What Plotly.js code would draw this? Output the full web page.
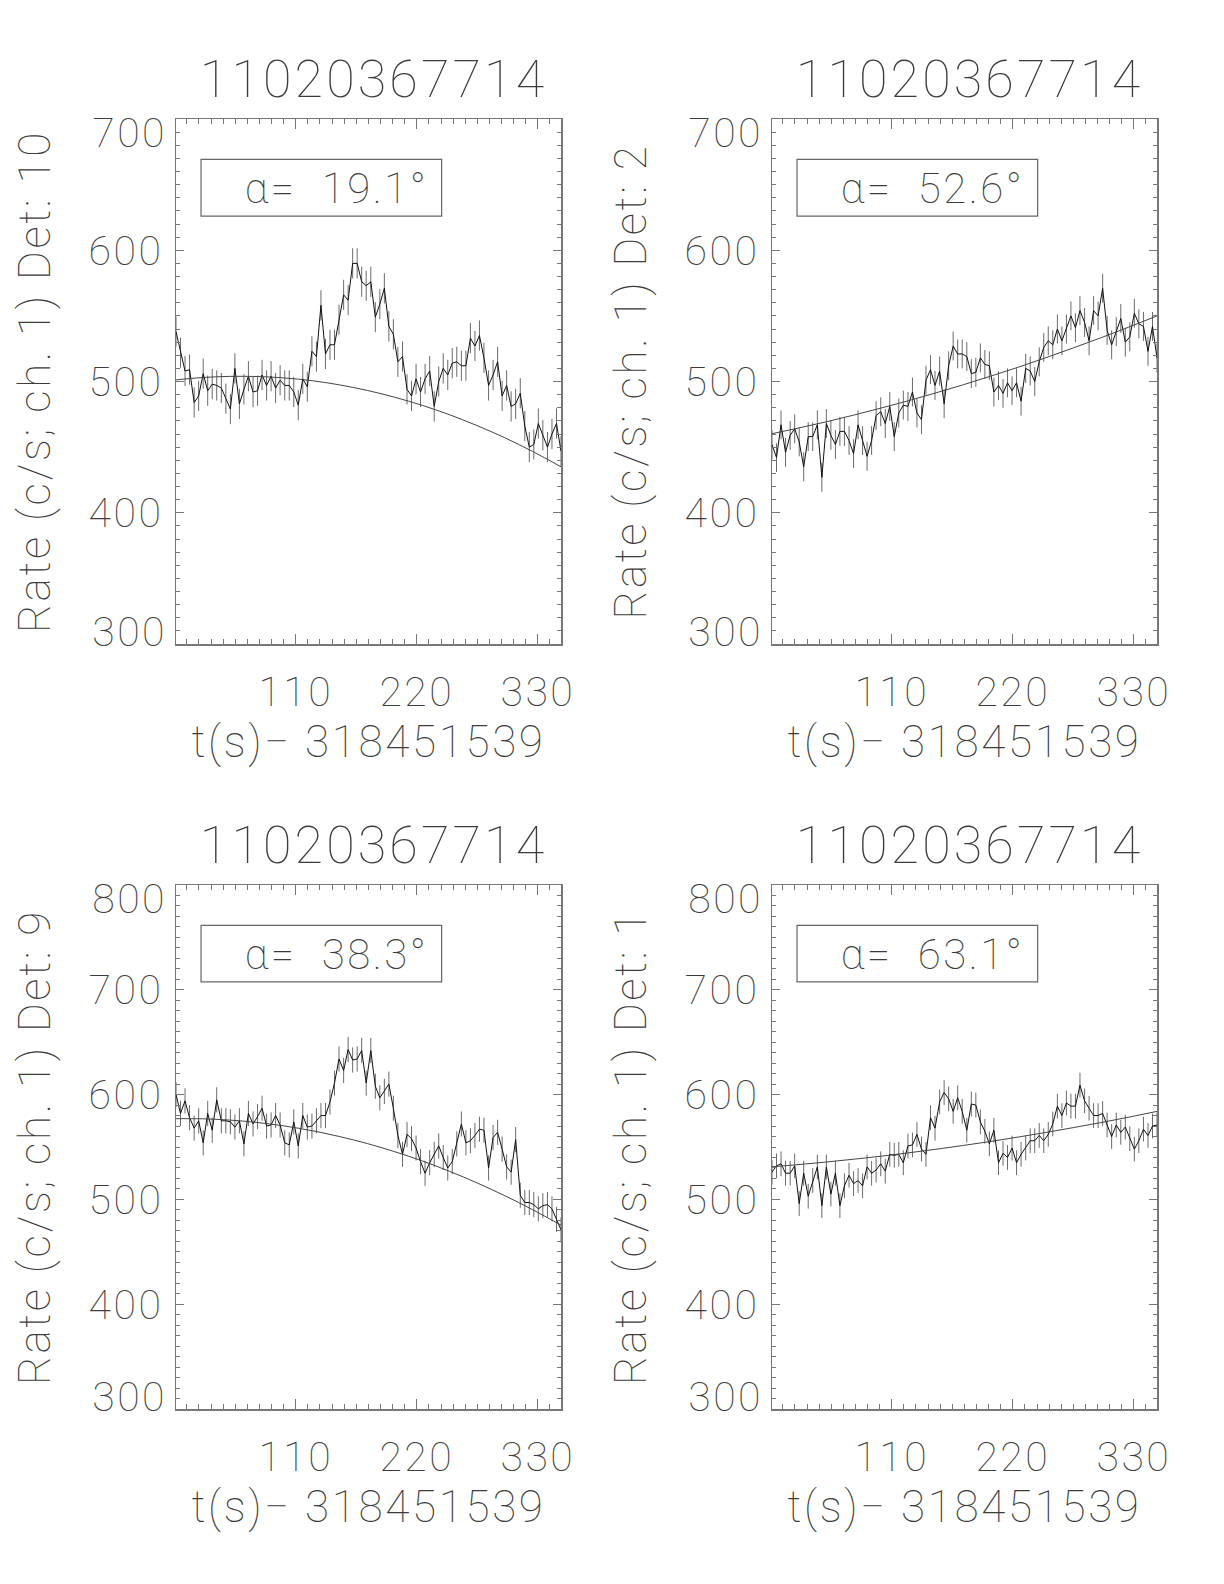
<!DOCTYPE html>
<html><head><meta charset="utf-8">
<script src="https://cdn.plot.ly/plotly-3.0.1.min.js"></script>
<style>
html,body{margin:0;padding:0;background:#fff}
#chart{width:1224px;height:1584px}
#chart svg text{letter-spacing:0.06em}
</style>
</head><body><div id="chart"></div>
<script>
// time bins (s) relative to 318451539
const tBins = [1.2, 5.3, 9.4, 13.5, 17.7, 21.8, 25.9, 30.0, 34.1, 38.2,
  42.4, 46.5, 50.6, 54.7, 58.8, 62.9, 67.0, 71.2, 75.3, 79.4,
  83.5, 87.6, 91.7, 95.8, 100.0, 104.1, 108.2, 112.3, 116.4, 120.5,
  124.7, 128.8, 132.9, 137.0, 141.1, 145.2, 149.3, 153.5, 157.6, 161.7,
  165.8, 169.9, 174.0, 178.2, 182.3, 186.4, 190.5, 194.6, 198.7, 202.8,
  207.0, 211.1, 215.2, 219.3, 223.4, 227.5, 231.7, 235.8, 239.9, 244.0,
  248.1, 252.2, 256.3, 260.5, 264.6, 268.7, 272.8, 276.9, 281.0, 285.2,
  289.3, 293.4, 297.5, 301.6, 305.7, 309.8, 314.0, 318.1, 322.2, 326.3,
  330.4, 334.5, 338.7, 342.8, 346.9, 351.0];

const rateDet10 = [538, 522, 508, 509, 484, 489, 506, 493, 498, 497,
  495, 487, 479, 510, 483, 494, 504, 492, 493, 505,
  497, 504, 495, 501, 497, 497, 492, 482, 502, 496,
  523, 519, 558, 521, 528, 528, 547, 566, 562, 590,
  590, 576, 573, 576, 549, 559, 571, 542, 536, 515,
  519, 494, 489, 502, 492, 502, 508, 481, 500, 510,
  505, 514, 515, 512, 512, 533, 527, 535, 518, 497,
  505, 515, 489, 497, 481, 483, 491, 466, 450, 452,
  468, 459, 450, 460, 468, 447];

const rateDet2 = [452, 442, 467, 446, 459, 464, 454, 435, 458, 458,
  467, 427, 468, 459, 452, 462, 462, 455, 445, 467,
  455, 443, 455, 474, 477, 468, 481, 458, 476, 482,
  481, 492, 476, 471, 501, 509, 497, 508, 483, 512,
  527, 521, 521, 519, 506, 507, 518, 513, 512, 492,
  497, 491, 499, 493, 499, 485, 510, 508, 500, 515,
  526, 531, 528, 540, 531, 540, 550, 541, 554, 545,
  531, 554, 550, 571, 539, 528, 538, 548, 530, 534,
  552, 544, 542, 523, 542, 518];

const rateDet9 = [600, 582, 594, 578, 568, 575, 554, 582, 566, 595,
  575, 575, 574, 569, 575, 553, 582, 572, 579, 587,
  570, 571, 580, 571, 554, 552, 574, 551, 580, 569,
  570, 575, 580, 580, 593, 611, 634, 623, 643, 633,
  634, 642, 611, 642, 608, 597, 603, 610, 587, 561,
  543, 562, 558, 549, 536, 525, 535, 543, 551, 540,
  530, 536, 553, 572, 554, 556, 561, 567, 566, 530,
  559, 564, 548, 531, 526, 557, 504, 497, 497, 495,
  491, 494, 495, 491, 481, 471];

const rateDet1 = [526, 532, 534, 525, 525, 532, 496, 525, 503, 518,
  531, 494, 531, 505, 525, 494, 513, 523, 515, 518,
  513, 531, 525, 528, 534, 527, 543, 542, 543, 535,
  551, 552, 562, 548, 543, 578, 568, 593, 602, 596,
  584, 597, 584, 566, 591, 590, 574, 565, 553, 566,
  535, 544, 540, 549, 535, 543, 549, 556, 556, 561,
  556, 562, 572, 589, 580, 592, 589, 589, 609, 594,
  587, 580, 580, 582, 571, 560, 571, 564, 569, 558,
  548, 556, 567, 561, 570, 571];

// 1-sigma half error per panel (c/s)
const errDet10 = 11.5, errDet2 = 11.0, errDet9 = 12.0, errDet1 = 11.8;

// background fit curves
const tFit = [1, 25, 50, 75, 100, 125, 150, 175, 200, 225, 250, 275, 300, 325, 351];
const fitDet10 = [501.2, 503.0, 503.9, 503.8, 502.7, 500.6, 497.4, 493.2, 488.0, 481.8, 474.6, 466.3, 457.1, 446.8, 435.0];
const fitDet2  = [460.2, 464.5, 469.2, 474.3, 479.7, 485.3, 491.3, 497.5, 504.1, 510.9, 518.1, 525.6, 533.3, 541.3, 550.0];
const fitDet9  = [577.0, 576.9, 575.7, 573.4, 570.0, 565.5, 559.9, 553.3, 545.5, 536.7, 526.7, 515.6, 503.5, 490.3, 475.4];
const fitDet1  = [531.1, 533.2, 535.6, 538.3, 541.2, 544.4, 547.8, 551.5, 555.3, 559.5, 563.9, 568.5, 573.3, 578.4, 584.0];

const panelTitle = "11020367714";
const xTitleText = "t(s)\u2212 318451539";
const detLabels = ["10", "2", "9", "1"];
const alphaLabels = ["19.1", "52.6", "38.3", "63.1"];
const xTickVals = [110, 220, 330];
const yTickValsA = [300, 400, 500, 600, 700];
const yTickValsB = [300, 400, 500, 600, 700, 800];

const rates = [rateDet10, rateDet2, rateDet9, rateDet1];
const errs = [errDet10, errDet2, errDet9, errDet1];
const fits = [fitDet10, fitDet2, fitDet9, fitDet1];
const yTicks = [yTickValsA, yTickValsA, yTickValsB, yTickValsB];

const W = 1224, H = 1584;
const px = (a, b) => [a / W, b / W];
const py = (top, bot) => [1 - bot / H, 1 - top / H];
const xDomains = [px(176, 561), px(772, 1157), px(176, 561), px(772, 1157)];
const yDomains = [py(119, 644), py(119, 644), py(885, 1409), py(885, 1409)];

const FONT = 'Roboto, sans-serif';
const TXT = '#3c3c3c';
const AX = '#777777';
const tf = (size) => ({family: FONT, size: size, color: TXT, weight: 100});

const traces = [];
const layout = {
  width: W, height: H,
  margin: {l: 0, r: 0, t: 0, b: 0},
  paper_bgcolor: '#fff', plot_bgcolor: '#fff',
  showlegend: false,
  font: tf(41),
  annotations: [], shapes: []
};

for (let p = 0; p < 4; p++) {
  const s = p === 0 ? '' : String(p + 1);
  const xa = 'x' + s, ya = 'y' + s;
  traces.push({
    x: tBins, y: rates[p], xaxis: xa, yaxis: ya, type: 'scatter', mode: 'lines',
    line: {color: '#111', width: 1},
    error_y: {type: 'constant', value: errs[p], color: '#6a6a6a', thickness: 1, width: 0},
    hoverinfo: 'x+y'
  });
  traces.push({
    x: tFit, y: fits[p], xaxis: xa, yaxis: ya, type: 'scatter', mode: 'lines',
    line: {color: '#444', width: 1, shape: 'spline'}, hoverinfo: 'skip'
  });
  const yr = yTicks[p];
  const yLo = yr[0], yHi = yr[yr.length - 1];
  // end labels are nudged inward (drawn as annotations), inner labels via the axis
  const yText = yr.map(v => (v === yLo || v === yHi) ? '' : String(v));
  layout['xaxis' + s] = {
    domain: xDomains[p], anchor: ya, range: [1.2, 351],
    tickmode: 'array', tickvals: xTickVals,
    ticks: 'inside', ticklen: 10, tickwidth: 1, tickcolor: AX,
    minor: {tickmode: 'linear', tick0: 0, dtick: 11, ticks: 'inside', ticklen: 5, tickwidth: 1, tickcolor: AX},
    showline: true, linecolor: AX, linewidth: 1.5, mirror: 'allticks',
    showgrid: false, zeroline: false,
    tickfont: tf(41),
    ticklabelstandoff: 11,
    title: {text: xTitleText, font: tf(44), standoff: 8}
  };
  layout['yaxis' + s] = {
    domain: yDomains[p], anchor: xa, range: [yLo, yHi],
    tickmode: 'array', tickvals: yr, ticktext: yText,
    ticks: 'inside', ticklen: 8, tickwidth: 1, tickcolor: AX,
    minor: {tickmode: 'linear', tick0: 0, dtick: 10, ticks: 'inside', ticklen: 4, tickwidth: 1, tickcolor: AX},
    showline: true, linecolor: AX, linewidth: 1.5, mirror: 'allticks',
    showgrid: false, zeroline: false,
    tickfont: tf(41),
    ticklabelstandoff: 3,
    title: {text: 'Rate (c/s; ch. 1) Det: ' + detLabels[p], font: tf(44), standoff: 31}
  };
  [[yHi, -14], [yLo, 12]].forEach(([v, sh]) => {
    layout.annotations.push({
      xref: xa + ' domain', yref: ya, x: 0, y: v, xshift: -11, yshift: sh,
      xanchor: 'right', yanchor: 'middle', showarrow: false,
      text: String(v), font: tf(41)
    });
  });
  layout.annotations.push({
    xref: xa + ' domain', yref: ya + ' domain', x: 0.514, y: 1, yshift: 40,
    xanchor: 'center', yanchor: 'middle', showarrow: false,
    text: panelTitle, font: tf(52)
  });
  layout.annotations.push({
    xref: xa + ' domain', yref: ya + ' domain', x: 0.416, y: 0.868,
    xanchor: 'center', yanchor: 'middle', showarrow: false,
    text: '\u03b1=\u00a0\u00a0' + alphaLabels[p] + '\u00b0',
    font: tf(42)
  });
  layout.shapes.push({
    type: 'rect', xref: xa + ' domain', yref: ya + ' domain',
    x0: 0.065, x1: 0.69, y0: 0.815, y1: 0.923,
    line: {color: '#666', width: 1.2}, fillcolor: 'rgba(0,0,0,0)'
  });
}

Plotly.newPlot('chart', traces, layout, {displayModeBar: false, staticPlot: true});
</script>
</body></html>
